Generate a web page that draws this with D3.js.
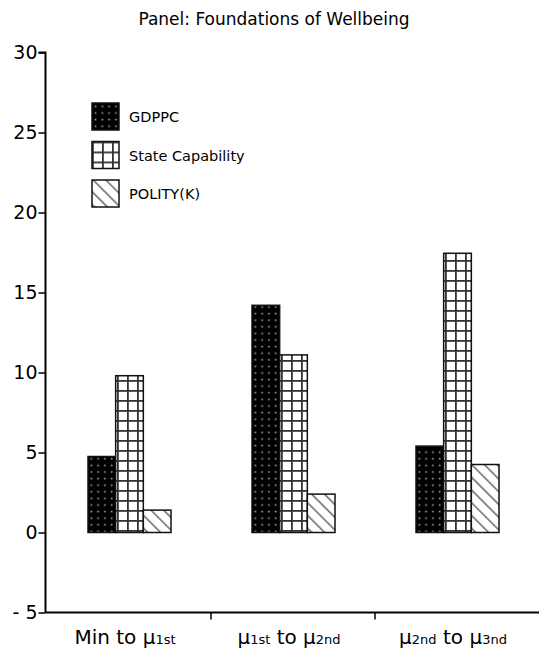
<!DOCTYPE html>
<html>
<head>
<meta charset="utf-8">
<script src="https://cdn.jsdelivr.net/npm/d3@7"></script>
<style>
  html, body { margin: 0; padding: 0; background: #fff; }
  svg { display: block; font-family: "DejaVu Sans", Verdana, sans-serif; }
</style>
</head>
<body>
<div id="chart"></div>
<script>
const title = "Panel: Foundations of Wellbeing";
const categories = [
  [["Min to μ", false], ["1st", true]],
  [["μ", false], ["1st", true], [" to μ", false], ["2nd", true]],
  [["μ", false], ["2nd", true], [" to μ", false], ["3nd", true]]
];
const seriesNames = ["GDPPC", "State Capability", "POLITY(K)"];
const gdppc = [4.75, 14.2, 5.4];
const stateCapability = [9.8, 11.1, 17.45];
const polity = [1.4, 2.4, 4.25];
const yTicks = [-5, 0, 5, 10, 15, 20, 25, 30];

function draw() {
  const w = 539, h = 653;
  const svg = d3.select("#chart").append("svg")
    .attr("width", w).attr("height", h);

  const defs = svg.append("defs");

  // dotted black fill
  const pDots = defs.append("pattern").attr("id", "dots")
    .attr("patternUnits", "userSpaceOnUse").attr("width", 6.8).attr("height", 6.6);
  pDots.append("rect").attr("width", 6.8).attr("height", 6.6).attr("fill", "#000");
  pDots.append("rect").attr("x", 2.7).attr("y", 2.6).attr("width", 1.6).attr("height", 1.6).attr("fill", "#aaa");

  // grid fill
  const pGrid = defs.append("pattern").attr("id", "grid")
    .attr("patternUnits", "userSpaceOnUse").attr("width", 10).attr("height", 10);
  pGrid.append("rect").attr("width", 10).attr("height", 10).attr("fill", "#fff");
  pGrid.append("rect").attr("x", 0).attr("y", 0).attr("width", 1.8).attr("height", 10).attr("fill", "#333");
  pGrid.append("rect").attr("x", 0).attr("y", 0).attr("width", 10).attr("height", 1.8).attr("fill", "#333");

  // diagonal hatch
  const pHatch = defs.append("pattern").attr("id", "hatch")
    .attr("patternUnits", "userSpaceOnUse").attr("width", 9).attr("height", 9)
    .attr("patternTransform", "rotate(-45)");
  pHatch.append("rect").attr("width", 9).attr("height", 9).attr("fill", "#fff");
  pHatch.append("rect").attr("x", 0).attr("y", 0).attr("width", 1.5).attr("height", 9).attr("fill", "#666");

  const fills = ["url(#dots)", "url(#grid)", "url(#hatch)"];
  const series = [gdppc, stateCapability, polity];

  const axisX = 45.5;
  const y = d3.scaleLinear().domain([-5, 30]).range([612.5, 52.5]);
  const x0 = d3.scaleBand().domain(d3.range(categories.length)).range([47, 539]).paddingInner(0).paddingOuter(0);
  const x1 = d3.scaleBand().domain(d3.range(seriesNames.length)).range([41, 124]).padding(0);

  // title
  svg.append("text")
    .attr("x", 274).attr("y", 25)
    .attr("text-anchor", "middle")
    .style("font-size", "17px")
    .attr("fill", "#000")
    .text(title);

  // bars
  const groups = svg.append("g").selectAll("g")
    .data(categories.map((c, i) => i))
    .join("g")
    .attr("transform", i => `translate(${x0(i)},0)`);

  groups.selectAll("rect")
    .data(i => series.map((s, k) => ({ k, v: s[i] })))
    .join("rect")
    .attr("x", d => x1(d.k))
    .attr("y", d => y(d.v))
    .attr("width", x1.bandwidth())
    .attr("height", d => y(0) - y(d.v))
    .attr("fill", d => fills[d.k])
    .attr("stroke", "#111")
    .attr("stroke-width", 1.5);

  // y axis
  const yAxis = svg.append("g")
    .attr("transform", `translate(${axisX},0)`)
    .call(d3.axisLeft(y).tickValues(yTicks).tickSize(7).tickPadding(1).tickFormat(d3.format("d")));
  yAxis.select(".domain").attr("d", `M-7,${y(30)}H0V${y(-5)}`).attr("stroke-width", 2);
  yAxis.selectAll(".tick line").attr("stroke-width", 1.5);
  yAxis.selectAll(".tick text")
    .style("font-size", "19px")
    .style("font-family", "DejaVu Sans, Verdana, sans-serif")
    .attr("fill", "#000")
    .text(d => d < 0 ? "- " + Math.abs(d) : d);

  // x axis
  const xAxisG = svg.append("g").attr("transform", `translate(0,${y(-5)})`);
  xAxisG.append("line")
    .attr("x1", axisX).attr("x2", w)
    .attr("stroke", "#000").attr("stroke-width", 2);
  xAxisG.selectAll("line.tick")
    .data(d3.range(1, categories.length))
    .join("line")
    .attr("class", "tick")
    .attr("x1", i => x0(i)).attr("x2", i => x0(i))
    .attr("y1", 0).attr("y2", 7)
    .attr("stroke", "#000").attr("stroke-width", 1.5);

  const labels = xAxisG.selectAll("text.cat")
    .data(categories)
    .join("text")
    .attr("class", "cat")
    .attr("x", (d, i) => x0(i) + x0.bandwidth() / 2 - 4)
    .attr("y", 31)
    .attr("text-anchor", "middle")
    .attr("fill", "#000");
  labels.selectAll("tspan")
    .data(d => d)
    .join("tspan")
    .style("font-size", d => d[1] ? "13px" : "20px")
    .text(d => d[0]);

  // legend
  const legend = svg.append("g").attr("transform", "translate(92,103)");
  const items = legend.selectAll("g")
    .data(seriesNames)
    .join("g")
    .attr("transform", (d, i) => `translate(0,${i * 38.5})`);
  items.append("rect")
    .attr("width", 27).attr("height", 27)
    .attr("fill", (d, i) => fills[i])
    .attr("stroke", "#111").attr("stroke-width", 1.5);
  items.append("text")
    .attr("x", 37).attr("y", 19)
    .style("font-size", "14.5px")
    .attr("fill", "#000")
    .text(d => d);
}

draw();
</script>
</body>
</html>
